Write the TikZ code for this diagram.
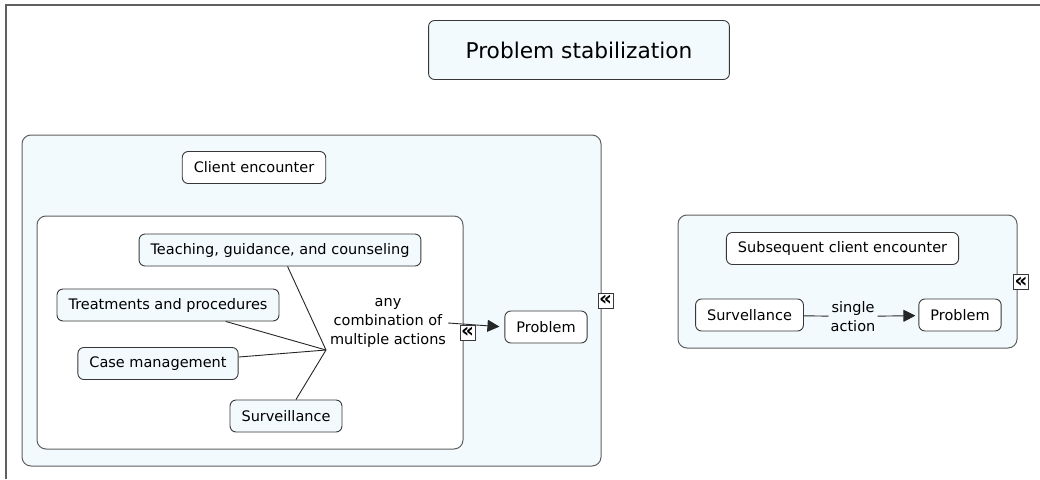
\documentclass[tikz,border=0pt]{standalone}
\usepackage{fontspec}
\setmainfont{DejaVu Sans}
\usepackage{tikz}
\usepackage{xcolor}
\usetikzlibrary{arrows.meta, positioning}
\definecolor{paleblue}{RGB}{242, 250, 253}
\definecolor{framegray}{RGB}{95, 95, 95}
\definecolor{edgegray}{RGB}{55, 55, 55}

\begin{document}
\begin{tikzpicture}[x=1pt, y=-1pt,
    concept/.style={draw=edgegray, line width=0.9pt, rounded corners=6pt, fill=white,
        font=\fontsize{14.5}{18}\selectfont, inner xsep=11.5pt, inner ysep=0pt, minimum height=32pt},
    container/.style={draw=framegray, line width=1pt, rounded corners=9pt, fill=paleblue},
    linklabel/.style={align=center, font=\fontsize{14.5}{19}\selectfont, inner sep=2pt},
    link/.style={draw=black!85, line width=0.9pt},
    arr/.style={link, -{Triangle[length=12pt,width=12pt]}},
    fold/.style={draw=edgegray, line width=0.8pt, fill=white, minimum size=15pt, inner sep=0pt,
        font=\fontsize{20}{20}\selectfont\bfseries}]
    \useasboundingbox (0,0) rectangle (1040,479);
    \draw[framegray, line width=1.5pt] (6,479) -- (6,5) -- (1040,5);

    % groups
    \draw[container] (22,135) rectangle (601,466);
    \draw[container, fill=white] (37,216) rectangle (463,449);
    \draw[container] (678,215) rectangle (1017,348);

    \node[concept, fill=paleblue, minimum height=59pt, inner xsep=37pt,
        font=\fontsize{21.7}{26}\selectfont] (title) at (579,50) {Problem stabilization};

    % first encounter
    \node[concept] (client) at (254,167.5) {Client encounter};
    \node[concept, fill=paleblue] (teach) at (280,250) {Teaching, guidance, and counseling};
    \node[concept, fill=paleblue] (treat) at (168,305) {Treatments and procedures};
    \node[concept, fill=paleblue] (casem) at (158,363.5) {Case management};
    \node[concept, fill=paleblue] (surv) at (286,416) {Surveillance};
    \coordinate (meet) at (326,350);
    \node[linklabel] (multi) at (388,323) {any\\combination of\\multiple actions};
    \node[concept] (prob1) at (546,327) {Problem};

    \foreach \n in {teach,treat,casem,surv}
        \draw[link] (\n) -- (meet);
    \draw[arr, shorten >=5pt] (multi.east) -- (prob1.west);

    % subsequent encounter
    \node[concept] (subs) at (842.5,248.5) {Subsequent client encounter};
    \node[concept] (survel) at (749.5,315) {Survellance};
    \node[linklabel] (single) at (853,316.5) {single\\action};
    \node[concept] (prob2) at (960,315) {Problem};
    \draw[link] (survel) -- (single);
    \draw[arr, shorten >=3pt] (single) -- (prob2);

    % collapse marks
    \node[fold] (fold1) at (467.5,332.5) {«};
    \node[fold] (fold2) at (605.5,300.5) {«};
    \node[fold] (fold3) at (1021,282) {«};
\end{tikzpicture}
\end{document}
